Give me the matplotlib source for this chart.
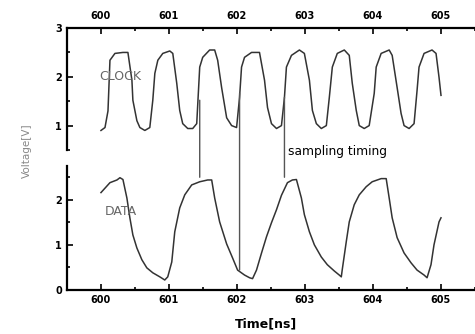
import matplotlib
matplotlib.use("Agg")
import matplotlib.pyplot as plt
from matplotlib.patches import ConnectionPatch
from matplotlib.ticker import MultipleLocator

# clock waveform (top panel)
clock_t = [600.000, 600.059, 600.103, 600.132, 600.205, 600.323, 600.396, 600.455, 600.469,
           600.528, 600.572, 600.645, 600.718, 600.762, 600.792, 600.836, 600.909, 601.012,
           601.056, 601.114, 601.158, 601.202, 601.276, 601.349, 601.408, 601.452, 601.496,
           601.598, 601.672, 601.716, 601.774, 601.848, 601.921, 601.994, 602.038, 602.067,
           602.111, 602.214, 602.331, 602.405, 602.449, 602.507, 602.581, 602.654, 602.698,
           602.727, 602.801, 602.918, 602.991, 603.065, 603.109, 603.167, 603.240, 603.314,
           603.358, 603.402, 603.475, 603.578, 603.651, 603.695, 603.754, 603.798, 603.871,
           603.944, 604.018, 604.047, 604.120, 604.238, 604.282, 604.355, 604.413, 604.457,
           604.531, 604.604, 604.648, 604.677, 604.751, 604.868, 604.927, 604.971, 605.000]
clock_v = [0.90, 0.96, 1.30, 2.34, 2.48, 2.50, 2.50, 1.93, 1.52,
           1.10, 0.96, 0.90, 0.96, 1.52, 2.07, 2.34, 2.48, 2.53,
           2.48, 1.87, 1.31, 1.04, 0.94, 0.94, 1.04, 2.20, 2.40,
           2.55, 2.55, 2.34, 1.78, 1.16, 1.00, 0.96, 1.58, 2.20,
           2.40, 2.50, 2.50, 1.93, 1.37, 1.04, 0.94, 1.00, 1.58,
           2.20, 2.44, 2.55, 2.48, 1.93, 1.31, 1.04, 0.94, 1.00,
           1.58, 2.20, 2.48, 2.55, 2.44, 1.87, 1.31, 1.00, 0.94,
           1.00, 1.66, 2.20, 2.48, 2.55, 2.44, 1.78, 1.25, 1.00,
           0.94, 1.04, 1.72, 2.20, 2.48, 2.55, 2.48, 1.99, 1.62]

# data waveform (bottom panel)
data_t = [600.000, 600.132, 600.235, 600.279, 600.323, 600.381, 600.425, 600.469, 600.528,
          600.601, 600.674, 600.762, 600.865, 600.938, 600.982, 601.041, 601.085, 601.158,
          601.232, 601.334, 601.452, 601.569, 601.628, 601.672, 601.745, 601.848, 601.935,
          602.009, 602.111, 602.185, 602.229, 602.287, 602.361, 602.434, 602.507, 602.581,
          602.654, 602.742, 602.815, 602.874, 602.947, 602.991, 603.065, 603.138, 603.240,
          603.328, 603.431, 603.504, 603.534, 603.548, 603.607, 603.651, 603.724, 603.798,
          603.900, 603.988, 604.120, 604.194, 604.238, 604.282, 604.355, 604.457, 604.560,
          604.648, 604.751, 604.795, 604.853, 604.897, 604.971, 605.000]
data_v = [2.16, 2.38, 2.44, 2.49, 2.45, 2.04, 1.60, 1.22, 0.93,
          0.67, 0.49, 0.38, 0.29, 0.22, 0.29, 0.62, 1.29, 1.82,
          2.11, 2.33, 2.40, 2.44, 2.44, 2.04, 1.51, 1.02, 0.71,
          0.44, 0.33, 0.27, 0.25, 0.44, 0.82, 1.18, 1.49, 1.78,
          2.10, 2.38, 2.44, 2.45, 2.04, 1.67, 1.29, 1.00, 0.73,
          0.56, 0.42, 0.33, 0.29, 0.45, 1.07, 1.51, 1.89, 2.11,
          2.29, 2.40, 2.47, 2.47, 2.04, 1.60, 1.16, 0.82, 0.60,
          0.44, 0.33, 0.27, 0.56, 1.00, 1.51, 1.60]

# sampling timing markers: time, clock level at start, data level at end
sample_t = [601.452, 602.038, 602.698]
sample_clk = [1.52, 1.66, 1.58]
sample_dat = [2.50, 0.44, 2.50]

xticks = [600, 601, 602, 603, 604, 605]

fig = plt.figure(figsize=(4.75, 3.34), dpi=100)
ax1 = fig.add_axes([0.141, 0.551, 0.859, 0.365])
ax2 = fig.add_axes([0.141, 0.132, 0.859, 0.371])

ax1.plot(clock_t, clock_v, color="#333333", lw=1.1)
ax2.plot(data_t, data_v, color="#333333", lw=1.1)

ax1.set_ylim(0.5, 3.0)
ax2.set_ylim(0, 2.75)
ax1.set_yticks([1, 2, 3])
ax2.set_yticks([0, 1, 2])
ax1.xaxis.tick_top()

for ax in (ax1, ax2):
    ax.set_xlim(599.5, 605.5)
    ax.set_xticks(xticks)
    ax.xaxis.set_minor_locator(MultipleLocator(0.5))
    ax.yaxis.set_minor_locator(MultipleLocator(0.5))
    ax.spines["right"].set_visible(False)
    ax.spines["left"].set_linewidth(1.6)
    ax.tick_params(which="both", direction="in", width=1.2, labelsize=7)
    ax.tick_params(which="major", length=4)
    ax.tick_params(which="minor", length=2.5)

ax1.spines["bottom"].set_visible(False)
ax1.spines["top"].set_linewidth(1.6)
ax1.tick_params(axis="x", pad=5)
ax2.spines["top"].set_visible(False)
ax2.spines["bottom"].set_linewidth(1.6)
ax2.tick_params(axis="x", pad=4)

# bold tick labels, set once the ticks are final
for ax in (ax1, ax2):
    for lab in ax.get_xticklabels() + ax.get_yticklabels():
        lab.set_fontweight("bold")

ax1.text(600.28, 2.01, "CLOCK", color="#666666", fontsize=9, ha="center", va="center")
ax2.text(600.29, 1.73, "DATA", color="#666666", fontsize=9, ha="center", va="center")

for t, vc, vd in zip(sample_t, sample_clk, sample_dat):
    con = ConnectionPatch(xyA=(t, vc), coordsA=ax1.transData,
                          xyB=(t, vd), coordsB=ax2.transData,
                          color="#555555", lw=1.0)
    fig.add_artist(con)

fig.text(0.606, 0.545, "sampling timing", fontsize=8.8, ha="left", va="center")
fig.text(0.56, 0.03, "Time[ns]", fontsize=9, fontweight="bold", ha="center", va="center")
fig.text(0.057, 0.55, "Voltage[V]", fontsize=7.5, color="#888888",
         rotation=90, ha="center", va="center")

fig.savefig("out.png", dpi=100)
